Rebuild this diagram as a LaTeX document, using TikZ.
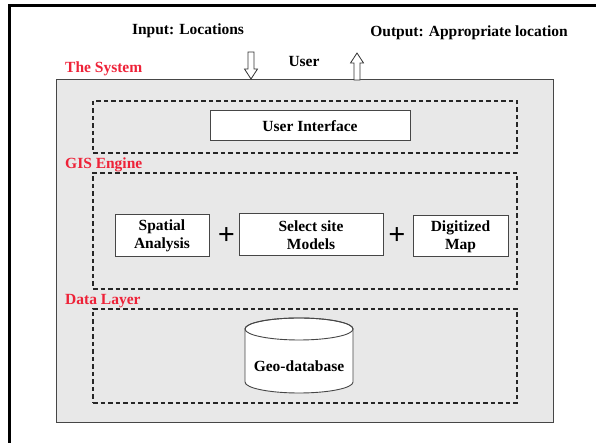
\documentclass[tikz,border=0pt]{standalone}
\usepackage{fontspec}
\setmainfont{Liberation Serif}
\definecolor{sysred}{RGB}{238,34,56}
\definecolor{sysgray}{RGB}{232,232,232}
\definecolor{edgegray}{RGB}{70,70,70}
\tikzset{
  txt/.style={font=\fontsize{15.5}{18}\selectfont\bfseries, inner sep=0pt, align=center},
  redlbl/.style={font=\fontsize{15.5}{18}\selectfont\bfseries, text=sysred, inner sep=0pt, anchor=west},
  layer/.style={draw=black!85, line width=1.2pt, dash pattern=on 4.5pt off 3pt, inner sep=0pt},
  comp/.style={draw=edgegray, fill=white, line width=1pt, inner sep=0pt, txt},
  plussign/.style={font=\fontsize{30}{30}\selectfont\bfseries, inner sep=0pt},
  hollow/.style={draw=black!80, fill=white, line width=0.8pt},
}
\begin{document}
\begin{tikzpicture}[x=1pt,y=1pt]
\useasboundingbox (0,0) rectangle (596,443);
% outer frame
\draw[line width=3pt] (9,0) -- (9,437) -- (596,437);
% system box
\node[draw=edgegray, fill=sysgray, line width=1pt, inner sep=0pt, minimum width=497pt, minimum height=343pt] (system) at (304.5,191.5) {};
% layers
\node[layer, minimum width=424pt, minimum height=52pt] (uilayer) at (305,316) {};
\node[layer, minimum width=424pt, minimum height=116pt] (gislayer) at (305,212) {};
\node[layer, minimum width=424pt, minimum height=94pt] (datalayer) at (305,87) {};
% labels
\node[txt] (input) at (188,412) {Input: Locations};
\node[txt] (output) at (469,410) {Output: Appropriate location};
\node[txt] (user) at (304,381) {User};
\node[redlbl] (lsys) at (65,374) {The System};
\node[redlbl] (lgis) at (65,278) {GIS Engine};
\node[redlbl] (ldata) at (65,142) {Data Layer};
% arrows
\draw[hollow] (248,391) -- (254,391) -- (254,374) -- (257.5,374) -- (251,364) -- (244.5,374) -- (248,374) -- cycle;
\draw[hollow] (354,363) -- (360,363) -- (360,380) -- (363.5,380) -- (357,390) -- (350.5,380) -- (354,380) -- cycle;
% components
\node[comp, minimum width=200pt, minimum height=30pt] (ui) at (310,317) {User Interface};
\node[comp, minimum width=94pt, minimum height=42pt] (spatial) at (162,207) {Spatial\\Analysis};
\node[comp, minimum width=144pt, minimum height=42pt] (select) at (311,208) {Select site\\Models};
\node[comp, minimum width=95pt, minimum height=41pt] (digit) at (460.5,206.5) {Digitized\\Map};
\node[plussign] (p1) at (226.5,207) {+};
\node[plussign] (p2) at (397,207) {+};
% cylinder
\draw[draw=edgegray, fill=white, line width=0.9pt] (245,114) -- (245,61) arc[start angle=180, end angle=360, x radius=54, y radius=11] -- (353,114) arc[start angle=0, end angle=180, x radius=54, y radius=11] -- cycle;
\draw[draw=edgegray, line width=0.9pt] (299,114) ellipse [x radius=54, y radius=11];
\node[txt] (geo) at (299,77) {Geo-database};
\end{tikzpicture}
\end{document}
